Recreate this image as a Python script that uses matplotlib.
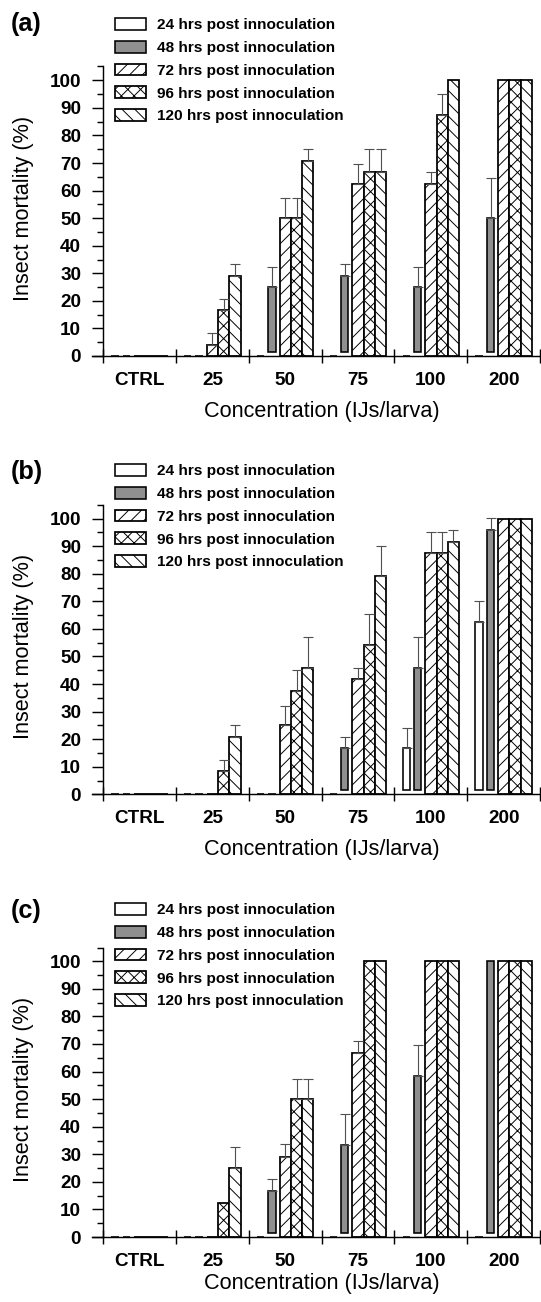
import numpy as np
import matplotlib.pyplot as plt
from matplotlib.ticker import FixedLocator

plt.rcParams['font.family'] = ['Liberation Sans', 'DejaVu Sans']
plt.rcParams['hatch.linewidth'] = 0.6

groups = ['CTRL', '25', '50', '75', '100', '200']
labels = ['24 hrs post innoculation', '48 hrs post innoculation',
          '72 hrs post innoculation', '96 hrs post innoculation',
          '120 hrs post innoculation']

# mean mortality (%), rows = 24, 48, 72, 96, 120 hrs
mean_a = [
    [0, 0, 0, 0, 0, 0],
    [0, 0, 25, 29.17, 25, 50],
    [0, 4.17, 50, 62.5, 62.5, 100],
    [0, 16.67, 50, 66.67, 87.5, 100],
    [0, 29.17, 70.83, 66.67, 100, 100],
]
se_a = [
    [0, 0, 0, 0, 0, 0],
    [0, 0, 7.2, 4.17, 7.2, 14.4],
    [0, 4.17, 7.2, 7.3, 4.17, 0],
    [0, 4.17, 7.2, 8.33, 7.4, 0],
    [0, 4.17, 4.17, 8.33, 0, 0],
]

mean_b = [
    [0, 0, 0, 0, 16.67, 62.5],
    [0, 0, 0, 16.67, 45.83, 95.83],
    [0, 0, 25, 41.67, 87.5, 100],
    [0, 8.33, 37.5, 54.17, 87.5, 100],
    [0, 20.83, 45.83, 79.17, 91.67, 100],
]
se_b = [
    [0, 0, 0, 0, 7.3, 7.5],
    [0, 0, 0, 4.17, 11.1, 4.4],
    [0, 0, 7.2, 4.17, 7.5, 0],
    [0, 4.17, 7.5, 11.2, 7.5, 0],
    [0, 4.17, 11.3, 11.0, 4.2, 0],
]

mean_c = [
    [0, 0, 0, 0, 0, 0],
    [0, 0, 16.67, 33.33, 58.33, 100],
    [0, 0, 29.17, 66.67, 100, 100],
    [0, 12.5, 50, 100, 100, 100],
    [0, 25, 50, 100, 100, 100],
]
se_c = [
    [0, 0, 0, 0, 0, 0],
    [0, 0, 4.2, 11.4, 11.3, 0],
    [0, 0, 4.4, 4.4, 0, 0],
    [0, 0, 7.3, 0, 0, 0],
    [0, 7.5, 7.3, 0, 0, 0],
]

fills = ['white', '#8f8f8f', 'white', 'white', 'white']
hatches = [None, None, '///', 'xxx', '\\\\\\']
narrow = [True, True, False, False, False]

W, H, DPI = 541, 1302, 115
fig = plt.figure(figsize=(W / DPI, H / DPI), dpi=DPI)


def panel(zero, letter, letter_y, leg_y, xlab_y, means, ses):
    ax = fig.add_axes([91.5 / W, (H - zero) / H, 448.6 / W, 289.5 / H])
    x = np.arange(len(groups)) + 0.5
    w = 0.155
    for i in range(5):
        pos = x + (i - 2) * w
        vals = np.array(means[i], dtype=float)
        err = np.array(ses[i], dtype=float)
        if narrow[i]:
            left = pos - w / 2
            bottom = np.where(vals > 0, 1.5, 0)
            ax.bar(left, vals - bottom, width=0.1, bottom=bottom, align='edge',
                   color=fills[i], edgecolor='black', lw=1.0, label=labels[i])
            ex = left + 0.055
        else:
            ax.bar(pos, vals, width=w, color='white', hatch=hatches[i],
                   edgecolor='black', lw=1.1, label=labels[i])
            ex = pos
        m = err > 0
        if m.any():
            ax.errorbar(ex[m], vals[m], yerr=[np.zeros(m.sum()), err[m]], fmt='none',
                        ecolor='#505050', elinewidth=0.7, capsize=3.2, capthick=0.7)

    ax.set_xlim(-0.16, 6)
    ax.set_ylim(0, 105)
    ax.spines['top'].set_visible(False)
    ax.spines['right'].set_visible(False)
    ax.spines['left'].set_position(('data', 0))
    for s in ['left', 'bottom']:
        ax.spines[s].set_linewidth(0.9)

    yt = list(range(0, 101, 10))
    ax.set_yticks(yt, [str(v) for v in yt], fontweight='bold', fontsize=11.8)
    ax.yaxis.set_minor_locator(FixedLocator(list(range(5, 106, 10))))
    ax.tick_params(axis='y', which='major', length=7.2, width=0.9, pad=6.6)
    ax.tick_params(axis='y', which='minor', length=3.6, width=0.9)

    ax.set_xticks(x, groups, fontweight='bold', fontsize=11.8)
    ax.set_xticks(np.arange(len(groups) + 1), minor=True)
    ax.tick_params(axis='x', which='major', length=0, pad=9.8)
    ax.tick_params(axis='x', which='minor', direction='inout', length=8.6, width=0.9)

    fig.text(24 / W, 1 - (zero - 148) / H, 'Insect mortality (%)', rotation=90,
             ha='center', va='center', fontsize=13.5)
    fig.text(322 / W, 1 - xlab_y / H, 'Concentration (IJs/larva)',
             ha='center', va='center', fontsize=13.5)
    fig.text(11 / W, 1 - letter_y / H, letter, ha='left', va='center',
             fontsize=15.8, fontweight='bold')

    ax.legend(loc='upper left', bbox_to_anchor=(115 / W, 1 - (leg_y - 6) / H),
              bbox_transform=fig.transFigure, frameon=False, borderpad=0,
              borderaxespad=0, handlelength=2.0, handleheight=0.8,
              handletextpad=0.73, labelspacing=0.56,
              prop={'weight': 'bold', 'size': 9.6})
    return ax


panel(356, '(a)', 24, 24, 412, mean_a, se_a)
panel(794.3, '(b)', 472.5, 470, 850, mean_b, se_b)
panel(1237, '(c)', 911, 909, 1283, mean_c, se_c)

fig.savefig('out.png', dpi=DPI)
